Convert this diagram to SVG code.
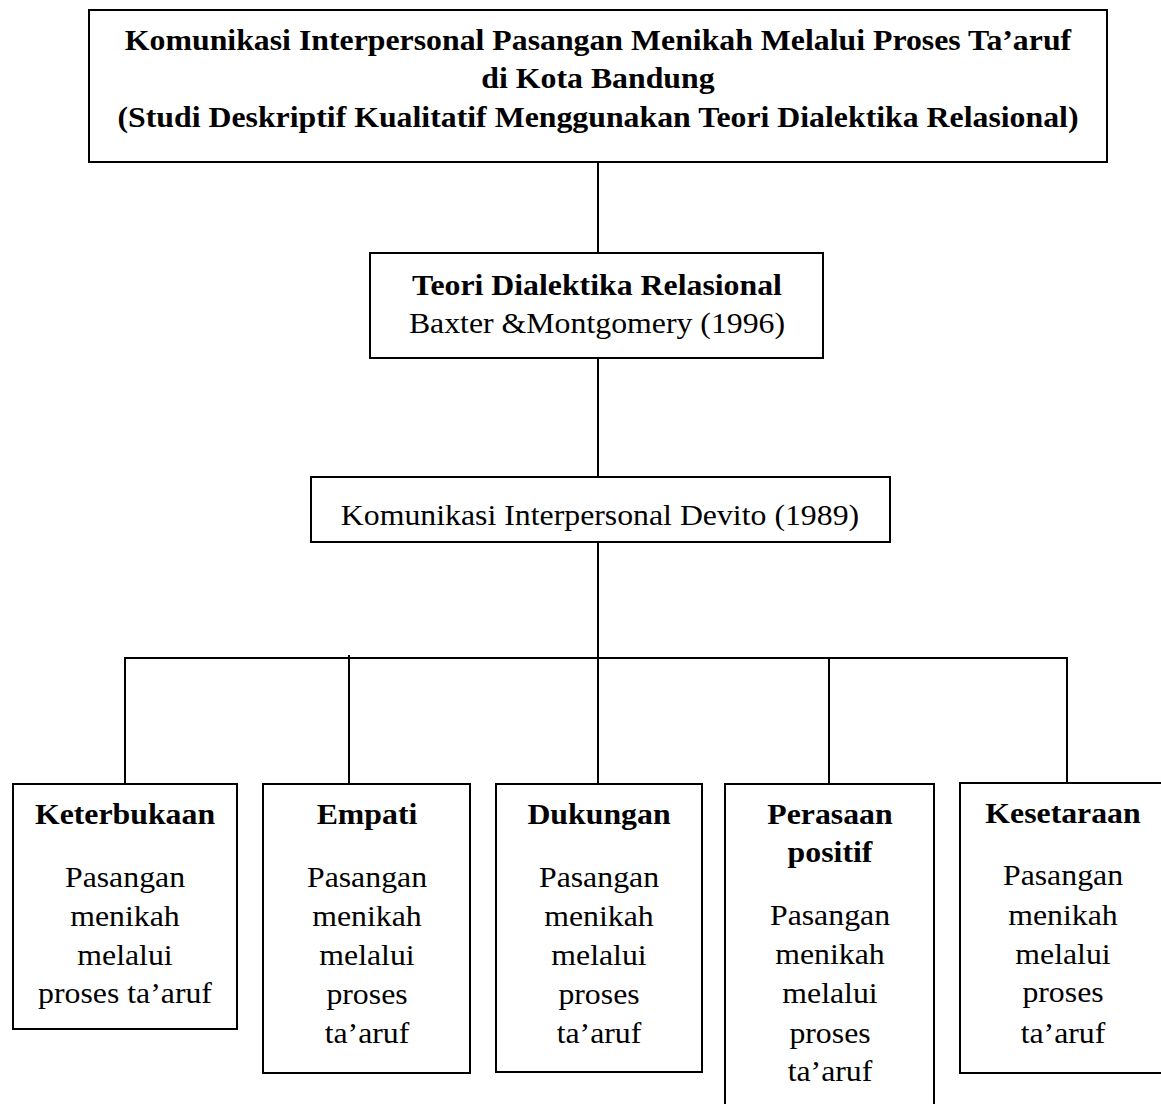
<svg xmlns="http://www.w3.org/2000/svg" width="1161" height="1104" viewBox="0 0 1161 1104">
<style>
  .box { fill: #ffffff; stroke: #000000; stroke-width: 2; }
  .wire { fill: none; stroke: #000000; stroke-width: 2; }
  text { font-family: "Liberation Serif", "Times New Roman", serif; font-size: 29px; fill: #000000; text-anchor: middle; }
  .b { font-weight: bold; }
</style>
<rect width="1161" height="1104" fill="#ffffff"/>
<g id="connectors">
  <line class="wire" x1="598" y1="162" x2="598" y2="253"/>
  <line class="wire" x1="598" y1="358" x2="598" y2="477"/>
  <line class="wire" x1="598" y1="542" x2="598" y2="784"/>
  <line class="wire" x1="124" y1="658" x2="1068" y2="658"/>
  <line class="wire" x1="125" y1="657" x2="125" y2="784"/>
  <line class="wire" x1="349" y1="655" x2="349" y2="784"/>
  <line class="wire" x1="829" y1="658" x2="829" y2="784"/>
  <line class="wire" x1="1067" y1="657" x2="1067" y2="784"/>
</g>
<g id="title">
  <rect class="box" x="89" y="10" width="1018" height="152"/>
  <g transform="translate(598 0) scale(1.097 1)">
    <text class="b" x="0" y="50">Komunikasi Interpersonal Pasangan Menikah Melalui Proses Ta’aruf</text>
    <text class="b" x="0" y="88.5">di Kota Bandung</text>
    <text class="b" x="0" y="127">(Studi Deskriptif Kualitatif Menggunakan Teori Dialektika Relasional)</text>
  </g>
</g>
<g id="teori">
  <rect class="box" x="370" y="253" width="453" height="105"/>
  <g transform="translate(597 0) scale(1.097 1)">
    <text class="b" x="0" y="295">Teori Dialektika Relasional</text>
    <text x="0" y="333">Baxter &amp;Montgomery (1996)</text>
  </g>
</g>
<g id="devito">
  <rect class="box" x="311" y="477" width="579" height="65"/>
  <g transform="translate(600 0) scale(1.097 1)">
    <text x="0" y="525">Komunikasi Interpersonal Devito (1989)</text>
  </g>
</g>
<g id="keterbukaan">
  <rect class="box" x="13" y="784" width="224" height="245"/>
  <g transform="translate(125 0) scale(1.097 1)">
    <text class="b" x="0" y="824">Keterbukaan</text>
    <text x="0" y="887">Pasangan</text>
    <text x="0" y="926">menikah</text>
    <text x="0" y="965">melalui</text>
    <text x="0" y="1003">proses ta’aruf</text>
  </g>
</g>
<g id="empati">
  <rect class="box" x="263" y="784" width="207" height="289"/>
  <g transform="translate(367 0) scale(1.097 1)">
    <text class="b" x="0" y="824">Empati</text>
    <text x="0" y="887">Pasangan</text>
    <text x="0" y="926">menikah</text>
    <text x="0" y="965">melalui</text>
    <text x="0" y="1004">proses</text>
    <text x="0" y="1043">ta’aruf</text>
  </g>
</g>
<g id="dukungan">
  <rect class="box" x="496" y="784" width="206" height="288"/>
  <g transform="translate(599 0) scale(1.097 1)">
    <text class="b" x="0" y="824">Dukungan</text>
    <text x="0" y="887">Pasangan</text>
    <text x="0" y="926">menikah</text>
    <text x="0" y="965">melalui</text>
    <text x="0" y="1004">proses</text>
    <text x="0" y="1043">ta’aruf</text>
  </g>
</g>
<g id="perasaan">
  <rect class="box" x="725" y="784" width="209" height="330"/>
  <g transform="translate(830 0) scale(1.097 1)">
    <text class="b" x="0" y="824">Perasaan</text>
    <text class="b" x="0" y="862">positif</text>
    <text x="0" y="925">Pasangan</text>
    <text x="0" y="964">menikah</text>
    <text x="0" y="1003">melalui</text>
    <text x="0" y="1043">proses</text>
    <text x="0" y="1081">ta’aruf</text>
  </g>
</g>
<g id="kesetaraan">
  <rect class="box" x="960" y="783" width="210" height="290"/>
  <g transform="translate(1063 0) scale(1.097 1)">
    <text class="b" x="0" y="823">Kesetaraan</text>
    <text x="0" y="885">Pasangan</text>
    <text x="0" y="925">menikah</text>
    <text x="0" y="964">melalui</text>
    <text x="0" y="1002">proses</text>
    <text x="0" y="1043">ta’aruf</text>
  </g>
</g>
</svg>
